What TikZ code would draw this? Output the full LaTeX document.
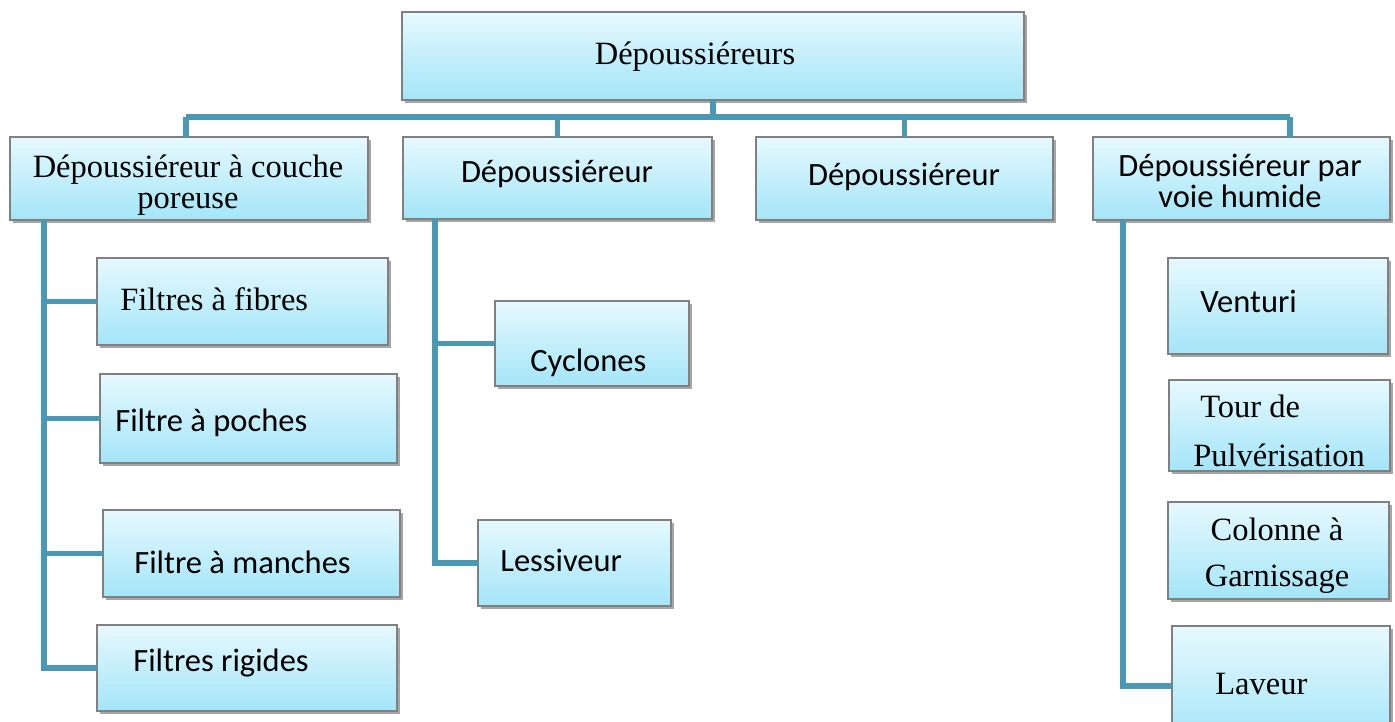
\documentclass[tikz,border=0pt]{standalone}
\usepackage{fontspec}
\setmainfont{Liberation Serif}
\newfontfamily\calibri{Carlito}
\usepackage{tikz}
\usetikzlibrary{fit,shadows}

\definecolor{lienbleu}{RGB}{74,152,177}
\definecolor{boitehaut}{RGB}{230,249,254}
\definecolor{boitebas}{RGB}{163,229,248}
\definecolor{bord}{RGB}{128,128,128}

\tikzset{
  boite/.style={draw=bord, line width=0.7pt, inner sep=0pt, outer sep=0pt,
    top color=boitehaut, bottom color=boitebas,
    drop shadow={shadow xshift=1.6pt, shadow yshift=-1.6pt, fill=black, opacity=0.35}},
  lien/.style={lienbleu, line width=2.9pt},
  serif/.style={font=\fontsize{18.5}{18}\selectfont, inner sep=0pt},
  sans/.style={font=\calibri\fontsize{18.5}{18}\selectfont, inner sep=0pt}
}

\begin{document}
\begin{tikzpicture}[x=0.02cm, y=-0.02cm]
    \clip (0,0) rectangle (1395,722);
    \fill[white] (0,0) rectangle (1395,722);
    % les boites
    \foreach \n/\a/\b/\c/\d in {top/402/12/1024/100, b1/10/137/368/220, b2/403/137/712/219,
        b3/756/137/1053/220, b4/1093/137/1390/220, fib/97/258/388/345, poc/100/374/397/463,
        man/103/510/400/597, rig/97/625/397/711, cyc/495/301/689/386, les/478/520/671/606,
        ven/1168/258/1388/354, tou/1169/380/1390/471, col/1168/502/1389/599, lav/1172/626/1390/746}{
        \node[boite, fit={(\a,\b) (\c,\d)}] (\n) {};
    }
    \coordinate (busL) at (186,117);
    \coordinate (busR) at (1290,117);
    \coordinate (sp1) at (44,0);
    \coordinate (sp2) at (435,0);
    \coordinate (sp4) at (1123,0);
    % liaisons
    \draw[lien] (busL) -- (busR);
    \draw[lien] (top.south) -- (top.south |- busL);
    \draw[lien] (busL) -- (busL |- b1.north);
    \draw[lien] (b2.north) -- (b2.north |- busL);
    \draw[lien] (b3.north) -- (b3.north |- busL);
    \draw[lien] (busR) -- (busR |- b4.north);
    \draw[lien] (sp1 |- b1.south) |- (rig.west);
    \draw[lien] (sp1 |- fib.west) -- (fib.west);
    \draw[lien] (sp1 |- poc.west) -- (poc.west);
    \draw[lien] (sp1 |- man.west) -- (man.west);
    \draw[lien] (sp2 |- b2.south) |- (les.west);
    \draw[lien] (sp2 |- cyc.west) -- (cyc.west);
    \draw[lien] (sp4 |- b4.south) |- (lav.west);
    % les textes
    \node[serif, anchor=base] (topT) at (695,65) {Dépoussiéreurs};
    \node[serif, align=center] (b1T) at (188,185) {Dépoussiéreur à couche\\poreuse};
    \node[sans, anchor=base] (b2T) at (557,183) {Dépoussiéreur};
    \node[sans, anchor=base] (b3T) at (904,186) {Dépoussiéreur};
    \node[sans, align=center] (b4T) at (1240,181) {Dépoussiéreur par\\voie humide};
    \node[serif, anchor=base west] (fibT) at (120,311) {Filtres à fibres};
    \node[sans, anchor=base west] (pocT) at (115,432) {Filtre à poches};
    \node[sans, anchor=base west] (manT) at (134,573) {Filtre à manches};
    \node[sans, anchor=base west] (rigT) at (133,671) {Filtres rigides};
    \node[sans, anchor=base west] (cycT) at (530,372) {Cyclones};
    \node[sans, anchor=base west] (lesT) at (500,571) {Lessiveur};
    \node[sans, anchor=base west] (venT) at (1200,313) {Venturi};
    \node[serif, align=left, anchor=west, font=\fontsize{18.5}{27.5}\selectfont] (touT) at (1193,431) {\hspace*{0.14cm}Tour de\\Pulvérisation};
    \node[serif, align=center, font=\fontsize{18.5}{26}\selectfont] (colT) at (1277,556) {Colonne à\\Garnissage};
    \node[serif, anchor=base west] (lavT) at (1215,694) {Laveur};
  \end{tikzpicture}
\end{document}
